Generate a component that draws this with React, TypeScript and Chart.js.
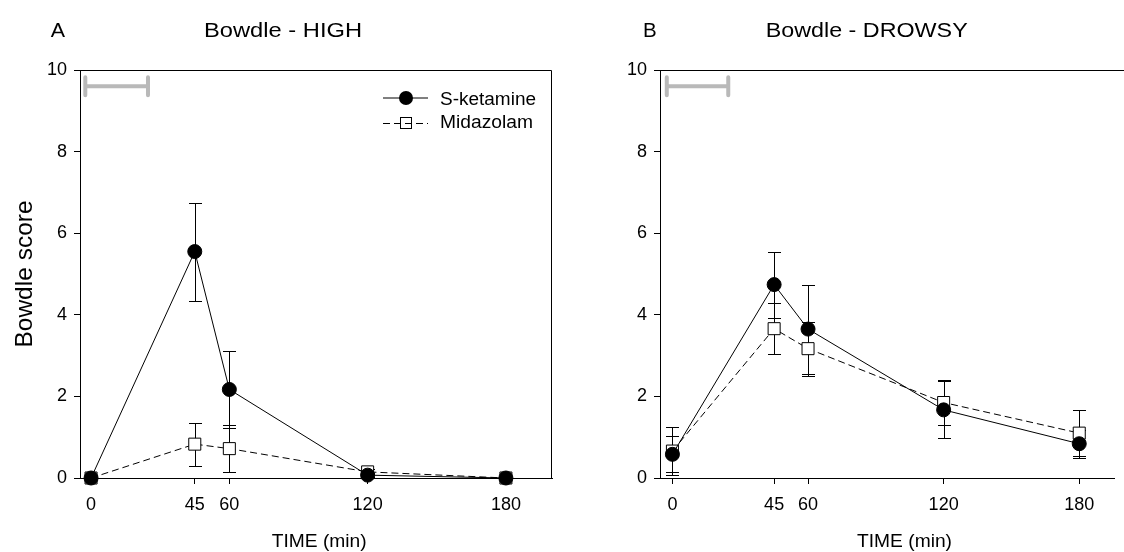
import React, { useEffect, useRef } from "react";
import { Chart, registerables } from "chart.js";

Chart.register(...registerables);

// ---------- data ----------
const times = [0, 45, 60, 120, 180];
const xTickValues = [0, 45, 60, 120, 180];
const yTickStep = 2;
const seriesNames = ["S-ketamine", "Midazolam"];

// Panel A: Bowdle - HIGH
const ketHigh = [0, 5.55, 2.17, 0.07, 0];
const ketHighErr = [0, 1.2, 0.94, 0.05, 0];
const midHigh = [0, 0.83, 0.72, 0.15, 0];
const midHighErr = [0, 0.53, 0.58, 0.06, 0];

// Panel B: Bowdle - DROWSY
const ketDrowsy = [0.58, 4.74, 3.65, 1.67, 0.84];
const ketDrowsyErr = [0.44, 0.81, 1.09, 0.7, 0.34];
const midDrowsy = [0.66, 3.66, 3.17, 1.85, 1.1];
const midDrowsyErr = [0.59, 0.62, 0.66, 0.55, 0.57];

// infusion period bar (x from, x to) and its height
const infusionBar = [-2.5, 24.7];
const infusionBarY = 9.6;

const FONT = '"Liberation Sans", Arial, Helvetica, sans-serif';

type PanelCfg = {
  left: number;
  letter: string;
  title: string;
  ket: number[];
  ketErr: number[];
  mid: number[];
  midErr: number[];
  xMin: number;
  xMax: number;
  yAxisWidth: number;
  padRight: number;
  rightBorder: boolean;
  legend: boolean;
  yLabel: boolean;
  letterX: number;
  letterW: number;
  titleX: number;
  titleW: number;
  xLabelX: number;
};

// draws text starting at x with baseline y, horizontally fitted to width w
function drawText(ctx: any, text: string, x: number, y: number, size: number, w: number) {
  ctx.save();
  ctx.font = `${size}px ${FONT}`;
  ctx.fillStyle = "#000";
  ctx.textBaseline = "alphabetic";
  ctx.textAlign = "left";
  const natural = ctx.measureText(text).width;
  const sx = w > 0 ? w / natural : 1;
  ctx.translate(x, y);
  ctx.scale(sx, 1);
  ctx.fillText(text, 0, 0);
  ctx.restore();
}

function makePlugin(cfg: PanelCfg) {
  return {
    id: "panelDecor",
    beforeDatasetsDraw(chart: any) {
      const { ctx, scales } = chart;
      const x = scales.x;
      const y = scales.y;
      ctx.save();
      // error bars
      ctx.strokeStyle = "#000";
      ctx.lineWidth = 1;
      const groups: [number[], number[]][] = [
        [cfg.mid, cfg.midErr],
        [cfg.ket, cfg.ketErr],
      ];
      groups.forEach(([vals, errs]) => {
        vals.forEach((v, i) => {
          const e = errs[i];
          if (!e) return;
          const px = Math.round(x.getPixelForValue(times[i])) + 0.5;
          const top = Math.round(y.getPixelForValue(v + e)) + 0.5;
          const bot = Math.round(y.getPixelForValue(v - e)) + 0.5;
          ctx.beginPath();
          ctx.moveTo(px, top);
          ctx.lineTo(px, bot);
          ctx.moveTo(px - 6.5, top);
          ctx.lineTo(px + 6.5, top);
          ctx.moveTo(px - 6.5, bot);
          ctx.lineTo(px + 6.5, bot);
          ctx.stroke();
        });
      });
      // infusion bar
      ctx.strokeStyle = "#b9b9b9";
      ctx.lineWidth = 4;
      ctx.lineCap = "round";
      const bx0 = x.getPixelForValue(infusionBar[0]);
      const bx1 = x.getPixelForValue(infusionBar[1]);
      const by = y.getPixelForValue(infusionBarY);
      const capH = Math.abs(y.getPixelForValue(infusionBarY + 0.22) - by);
      ctx.beginPath();
      ctx.moveTo(bx0, by);
      ctx.lineTo(bx1, by);
      ctx.moveTo(bx0, by - capH);
      ctx.lineTo(bx0, by + capH);
      ctx.moveTo(bx1, by - capH);
      ctx.lineTo(bx1, by + capH);
      ctx.stroke();
      ctx.restore();
    },
    afterDraw(chart: any) {
      const { ctx, chartArea, width } = chart;
      ctx.save();
      // frame
      ctx.strokeStyle = "#000";
      ctx.lineWidth = 1;
      ctx.beginPath();
      const t = Math.round(chartArea.top) + 0.5;
      ctx.moveTo(Math.round(chartArea.left), t);
      if (cfg.rightBorder) {
        const r = Math.round(chartArea.right) - 0.5;
        ctx.lineTo(r, t);
        ctx.lineTo(r, Math.round(chartArea.bottom) + 0.5);
      } else {
        ctx.lineTo(width, t);
      }
      ctx.stroke();
      ctx.restore();

      // texts
      drawText(ctx, cfg.letter, cfg.letterX, 37, 20, cfg.letterW);
      drawText(ctx, cfg.title, cfg.titleX, 37, 20, cfg.titleW);
      drawText(ctx, "TIME (min)", cfg.xLabelX, 546.5, 17.5, 95);
      if (cfg.yLabel) {
        ctx.save();
        ctx.translate(32, 274);
        ctx.rotate(-Math.PI / 2);
        ctx.font = `24.5px ${FONT}`;
        ctx.fillStyle = "#000";
        ctx.textAlign = "center";
        ctx.textBaseline = "alphabetic";
        ctx.fillText("Bowdle score", 0, 0);
        ctx.restore();
      }

      // legend
      if (cfg.legend) {
        const lx0 = 383;
        const lx1 = 428;
        const mx = 406;
        const r1 = 97.5;
        const r2 = 123;
        ctx.save();
        ctx.strokeStyle = "#000";
        ctx.lineWidth = 1;
        ctx.beginPath();
        ctx.moveTo(lx0, r1 + 0.5);
        ctx.lineTo(lx1, r1 + 0.5);
        ctx.stroke();
        ctx.fillStyle = "#000";
        ctx.beginPath();
        ctx.arc(mx, r1 + 0.5, 7, 0, Math.PI * 2);
        ctx.fill();
        // midazolam
        ctx.fillStyle = "#fff";
        ctx.fillRect(mx - 6, r2 - 6, 12, 12);
        ctx.strokeRect(mx - 5.5, r2 - 5.5, 11, 11);
        ctx.setLineDash([7, 4]);
        ctx.beginPath();
        ctx.moveTo(lx0, r2 + 0.5);
        ctx.lineTo(lx1, r2 + 0.5);
        ctx.stroke();
        ctx.restore();
        drawText(ctx, seriesNames[0], 440, 105, 17.5, 96);
        drawText(ctx, seriesNames[1], 440, 128.3, 17.5, 93);
      }
    },
  };
}

function Panel({ cfg }: { cfg: PanelCfg }) {
  const ref = useRef<HTMLCanvasElement | null>(null);
  useEffect(() => {
    if (!ref.current) return;
    const chart = new Chart(ref.current, {
      type: "line",
      data: {
        datasets: [
          {
            label: seriesNames[0],
            data: times.map((t, i) => ({ x: t, y: cfg.ket[i] })),
            borderColor: "#000",
            borderWidth: 1,
            pointStyle: "circle",
            pointRadius: 7,
            pointBackgroundColor: "#000",
            pointBorderColor: "#000",
            pointBorderWidth: 1,
            clip: false,
            tension: 0,
          },
          {
            label: seriesNames[1],
            data: times.map((t, i) => ({ x: t, y: cfg.mid[i] })),
            borderColor: "#000",
            borderWidth: 1,
            borderDash: [7, 4],
            pointStyle: "rect",
            pointRadius: 8.5,
            pointBackgroundColor: "#fff",
            pointBorderColor: "#000",
            pointBorderWidth: 1,
            clip: false,
            tension: 0,
          },
        ],
      } as any,
      options: {
        responsive: false,
        animation: false,
        devicePixelRatio: 1,
        layout: { padding: { top: 70, right: cfg.padRight, left: 0, bottom: 0 } },
        plugins: { legend: { display: false }, tooltip: { enabled: false } },
        events: [],
        scales: {
          x: {
            type: "linear",
            min: cfg.xMin,
            max: cfg.xMax,
            afterBuildTicks: (s: any) => {
              s.ticks = xTickValues.map((v) => ({ value: v }));
            },
            afterFit: (s: any) => {
              s.height = 74;
              s.paddingLeft = 0;
              s.paddingRight = 0;
            },
            grid: {
              drawOnChartArea: false,
              drawTicks: true,
              tickLength: 6,
              color: "#000",
              lineWidth: 1,
            },
            border: { display: true, color: "#000", width: 1 },
            ticks: {
              color: "#000",
              padding: 10,
              maxRotation: 0,
              autoSkip: false,
              font: { family: FONT, size: 18 },
              callback: (v: any) => String(v),
            },
          },
          y: {
            type: "linear",
            min: 0,
            max: 10,
            afterFit: (s: any) => {
              s.width = cfg.yAxisWidth;
              s.paddingTop = 0;
              s.paddingBottom = 0;
            },
            grid: {
              drawOnChartArea: false,
              drawTicks: true,
              tickLength: 6,
              color: "#000",
              lineWidth: 1,
            },
            border: { display: true, color: "#000", width: 1 },
            ticks: {
              stepSize: yTickStep,
              color: "#000",
              padding: 7,
              font: { family: FONT, size: 18 },
            },
          },
        },
      } as any,
      plugins: [makePlugin(cfg)],
    });
    return () => chart.destroy();
  }, [cfg]);
  return (
    <canvas
      ref={ref}
      width={562}
      height={552}
      style={{ position: "absolute", left: cfg.left, top: 0, width: 562, height: 552 }}
    />
  );
}

const panelA: PanelCfg = {
  left: 0,
  letter: "A",
  title: "Bowdle - HIGH",
  ket: ketHigh,
  ketErr: ketHighErr,
  mid: midHigh,
  midErr: midHighErr,
  xMin: -4.8,
  xMax: 200,
  yAxisWidth: 80,
  padRight: 10,
  rightBorder: true,
  legend: true,
  yLabel: true,
  letterX: 50.7,
  letterW: 14.3,
  titleX: 204,
  titleW: 158,
  xLabelX: 271.7,
};

const panelB: PanelCfg = {
  left: 562,
  letter: "B",
  title: "Bowdle - DROWSY",
  ket: ketDrowsy,
  ketErr: ketDrowsyErr,
  mid: midDrowsy,
  midErr: midDrowsyErr,
  xMin: -5.5,
  xMax: 195.6,
  yAxisWidth: 98,
  padRight: 0,
  rightBorder: false,
  legend: false,
  yLabel: false,
  letterX: 81,
  letterW: 13.7,
  titleX: 203.7,
  titleW: 202,
  xLabelX: 295,
};

export default function App() {
  return (
    <div
      style={{
        position: "fixed",
        left: 0,
        top: 0,
        width: 1124,
        height: 552,
        background: "#fff",
        overflow: "hidden",
      }}
    >
      <Panel cfg={panelA} />
      <Panel cfg={panelB} />
    </div>
  );
}
